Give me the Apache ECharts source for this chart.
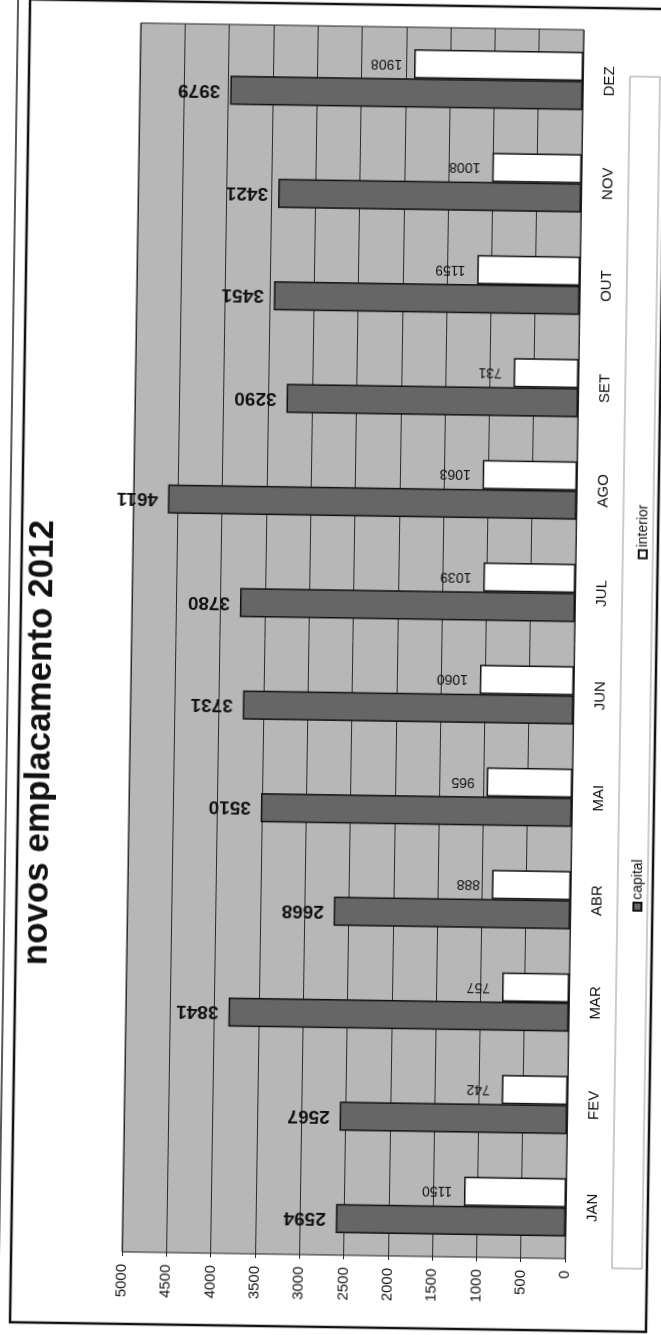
<!DOCTYPE html>
<html><head><meta charset="utf-8">
<script src="https://cdn.jsdelivr.net/npm/echarts@6/dist/echarts.min.js"></script>
<style>
html,body{margin:0;padding:0;width:661px;height:1335px;overflow:hidden;background:#fff;}
#wrap{position:absolute;left:-337px;top:337px;width:1335px;height:661px;transform-origin:50% 50%;transform:rotate(-89.13deg);}
</style></head><body>
<div id="wrap"></div>
<script>
const categories = ['JAN','FEV','MAR','ABR','MAI','JUN','JUL','AGO','SET','OUT','NOV','DEZ'];
const capital = [2594,2567,3841,2668,3510,3731,3780,4611,3290,3451,3421,3979];
const interior = [1150,742,757,888,965,1060,1039,1063,731,1159,1008,1908];
const valueMin = 0, valueMax = 5000, valueStep = 500;
const titleText = 'novos emplacamento 2012';
const seriesNames = ['capital','interior'];

const FONT = '"Liberation Sans", Arial, sans-serif';
const chart = echarts.init(document.getElementById('wrap'), null, {renderer:'canvas'});
chart.setOption({
  backgroundColor:'#ffffff',
  animation:false,
  textStyle:{fontFamily:FONT},
  grid:{left:80,right:26,top:131,bottom:87,show:true,backgroundColor:'#b7b7b7',borderColor:'#222',borderWidth:1},
  graphic:[
    {type:'rect',shape:{x:8,y:20,width:1323,height:636},style:{fill:'none',stroke:'#111',lineWidth:2.5},z:-1},
    {type:'line',shape:{x1:0,y1:8,x2:1335,y2:8},style:{stroke:'#222',lineWidth:1.5}},
    {type:'rect',shape:{x:71,y:621,width:1192,height:30},style:{fill:'none',stroke:'#999',lineWidth:1}},
    {type:'text',x:588,y:41,style:{text:titleText,font:'bold 35px '+FONT,fill:'#111',align:'center',verticalAlign:'middle'}}
  ],
  legend:{data:seriesNames,left:423,top:629,itemGap:300,itemWidth:8,itemHeight:8,icon:'rect',
    textStyle:{fontSize:14,color:'#111',fontFamily:FONT,padding:[0,0,0,-2]}},
  xAxis:{type:'category',data:categories,axisTick:{show:false},axisLine:{show:false},
    axisLabel:{fontSize:15,color:'#111',margin:19,fontFamily:FONT}},
  yAxis:{type:'value',min:valueMin,max:valueMax,interval:valueStep,
    axisLine:{show:false},axisTick:{show:true,length:4,lineStyle:{color:'#222'}},
    splitLine:{show:true,lineStyle:{color:'#2a2a2a',width:1}},
    axisLabel:{fontSize:15,color:'#111',margin:12,fontFamily:FONT,formatter:function(v){return String(v);}}},
  series:[
    {name:seriesNames[0],type:'bar',data:capital,barGap:'0%',barCategoryGap:'43%',
     itemStyle:{color:'#666666',borderColor:'#111',borderWidth:1.5},
     label:{show:true,position:'top',rotate:90,align:'left',verticalAlign:'middle',distance:10,
       fontSize:19,fontWeight:'bold',color:'#111',fontFamily:FONT}},
    {name:seriesNames[1],type:'bar',data:interior,
     itemStyle:{color:'#ffffff',borderColor:'#111',borderWidth:1.5},
     label:{show:true,position:'top',rotate:90,align:'left',verticalAlign:'middle',distance:12,
       fontSize:14,color:'#111',fontFamily:FONT}}
  ]
});
</script>
</body></html>
